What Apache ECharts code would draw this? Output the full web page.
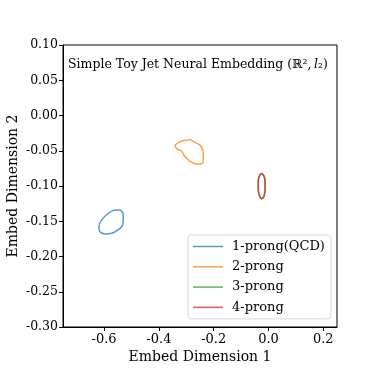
<!DOCTYPE html>
<html><head><meta charset="utf-8">
<script src="https://cdn.jsdelivr.net/npm/echarts@6/dist/echarts.min.js"></script>
<style>html,body{margin:0;padding:0;background:#fff}#c{width:374px;height:374px}</style>
</head><body><div id="c"></div>
<script>
const seriesNames = ['1-prong(QCD)', '2-prong', '3-prong', '4-prong'];
const colors = ['#1f77b4', '#ff7f0e', '#2ca02c', '#d62728'];
const xTicks = [-0.6, -0.4, -0.2, 0.0, 0.2];
const yTicks = [-0.30, -0.25, -0.20, -0.15, -0.10, -0.05, 0.00, 0.05, 0.10];

const prong1 = [[-0.540,-0.134],[-0.560,-0.134],[-0.585,-0.139],[-0.609,-0.148],[-0.619,-0.158],[-0.615,-0.165],[-0.597,-0.168],[-0.572,-0.167],[-0.548,-0.162],[-0.532,-0.155],[-0.530,-0.146],[-0.531,-0.139],[-0.540,-0.134]];
const prong2 = [[-0.341,-0.042],[-0.323,-0.037],[-0.299,-0.035],[-0.286,-0.034],[-0.274,-0.037],[-0.250,-0.042],[-0.240,-0.049],[-0.238,-0.058],[-0.242,-0.068],[-0.262,-0.069],[-0.286,-0.065],[-0.305,-0.058],[-0.317,-0.051],[-0.335,-0.047],[-0.341,-0.042]];
const prong3 = [[-0.026,-0.082],[-0.017,-0.086],[-0.013,-0.094],[-0.013,-0.104],[-0.016,-0.113],[-0.025,-0.118],[-0.034,-0.113],[-0.038,-0.104],[-0.038,-0.093],[-0.034,-0.086],[-0.026,-0.082]];
const prong4 = [[-0.025,-0.082],[-0.016,-0.086],[-0.012,-0.094],[-0.012,-0.104],[-0.015,-0.113],[-0.024,-0.118],[-0.033,-0.113],[-0.037,-0.104],[-0.037,-0.093],[-0.033,-0.086],[-0.025,-0.082]];
const allData = [prong1, prong2, prong3, prong4];

const FONT = 'DejaVu Serif';
const chart = echarts.init(document.getElementById('c'), null, {renderer: 'canvas'});
chart.setOption({
  animation: false,
  textStyle: {fontFamily: FONT},
  title: {
    text: '{a|Simple Toy Jet Neural Embedding (ℝ²,\u2009}{i|l}{a|₂)}',
    left: 68, top: 58, padding: 0,
    textStyle: {fontWeight: 'normal', rich: {
      a: {fontFamily: FONT, fontSize: 12.5, fontWeight: 'normal', color: '#000'},
      i: {fontFamily: FONT, fontSize: 12.5, fontWeight: 'normal', fontStyle: 'italic', color: '#000'}
    }}
  },
  grid: {left: 63, right: 37, top: 45, bottom: 47, outerBoundsMode: 'none', containLabel: false, show: true, borderColor: '#000', borderWidth: 1, backgroundColor: 'transparent'},
  xAxis: {
    type: 'value', min: -0.75, max: 0.25,
    name: 'Embed Dimension 1', nameLocation: 'middle', nameGap: 23, nameMoveOverlap: false,
    nameTextStyle: {fontFamily: FONT, fontSize: 14, color: '#000'},
    axisLine: {show: true, onZero: false, lineStyle: {color: '#000', width: 1}},
    axisTick: {show: true, length: 4, inside: false, customValues: xTicks, lineStyle: {color: '#000'}},
    axisLabel: {customValues: xTicks, margin: 6, fontFamily: FONT, fontSize: 13, color: '#000',
      formatter: v => v.toFixed(1)},
    splitLine: {show: false}
  },
  yAxis: {
    type: 'value', min: -0.30, max: 0.10, interval: 0.05,
    name: 'Embed Dimension 2', nameLocation: 'middle', nameGap: 43, nameMoveOverlap: false,
    nameTextStyle: {fontFamily: FONT, fontSize: 14, color: '#000'},
    axisLine: {show: true, onZero: false, lineStyle: {color: '#000', width: 1}},
    axisTick: {show: true, length: 4, lineStyle: {color: '#000'}},
    axisLabel: {margin: 5, fontFamily: FONT, fontSize: 12.5, color: '#000',
      formatter: v => v.toFixed(2)},
    splitLine: {show: false}
  },
  legend: {
    orient: 'vertical', left: 188, top: 235,
    data: seriesNames,
    icon: 'rect', itemWidth: 30, itemHeight: 1.5, itemGap: 7.3,
    padding: [5, 6, 5, 5],
    borderColor: '#d8d8d8', borderWidth: 1, borderRadius: 3,
    backgroundColor: 'rgba(255,255,255,0.8)',
    textStyle: {fontFamily: FONT, fontSize: 13, color: '#000', padding: [0, 0, 0, 4]}
  },
  series: allData.map((d, i) => ({
    name: seriesNames[i], type: 'line', data: d,
    showSymbol: false, symbol: 'none', smooth: 0.4,
    lineStyle: {color: colors[i], width: 1.5, opacity: 0.75},
    itemStyle: {color: colors[i], opacity: 0.75},
    z: 2 + i
  }))
});
</script></body></html>
